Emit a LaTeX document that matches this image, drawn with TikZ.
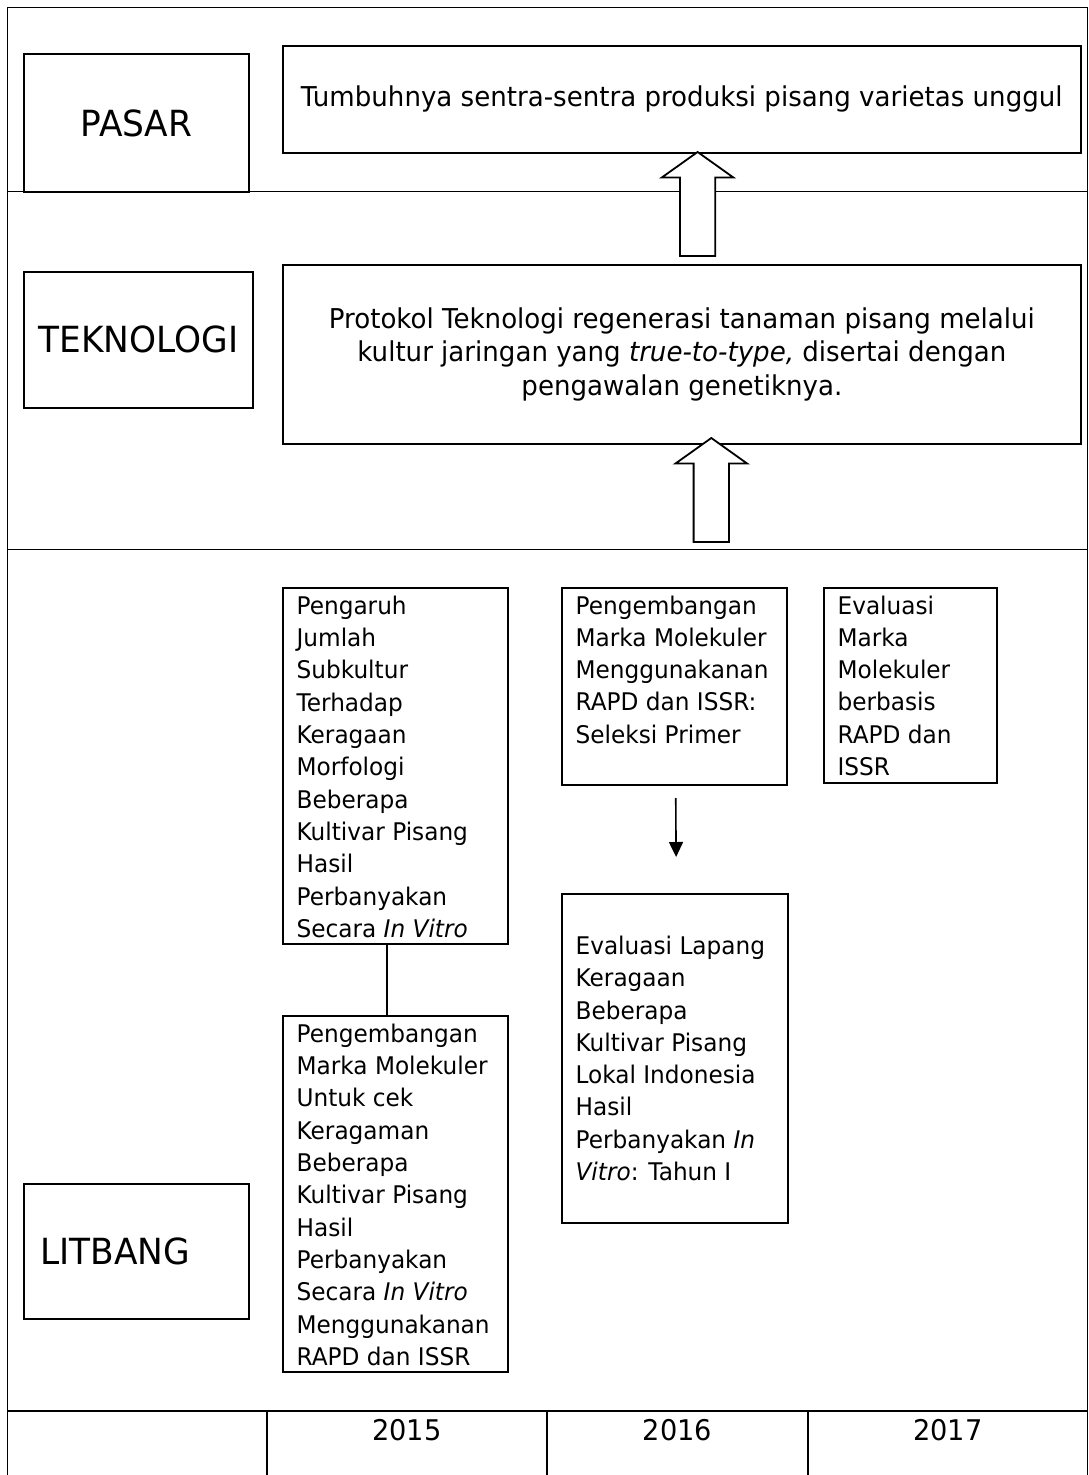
\documentclass[tikz,border=0pt]{standalone}
\usepackage{fontspec}
\setmainfont{DejaVu Sans}[FakeStretch=0.955]
\usetikzlibrary{arrows.meta}

\newcommand{\isi}[4][t]{\parbox[c][#3pt][#1]{#2pt}{\raggedright #4}}

\begin{document}
\begin{tikzpicture}[x=1pt, y=-1pt, line width=1.8pt]
		\tikzset{kotak/.style={draw, rectangle, anchor=north west, inner sep=0pt},
			lbl/.style={kotak, font=\fontsize{36}{40}\selectfont},
			judul/.style={kotak, align=center, font=\fontsize{27.3}{33.5}\selectfont},
			kecil/.style={kotak, inner xsep=14pt, inner ysep=8pt, font=\fontsize{24.3}{32.3}\selectfont},
			tahun/.style={anchor=base, font=\fontsize{28.5}{33.5}\selectfont},
			panah/.style={line width=1.6pt, -{Triangle[length=15pt, width=14pt]}},
			panahblok/.pic={\draw[fill=white] (-17.7,0) -- (-17.7,-78.5) -- (-35.8,-78.5) -- (0,-104) -- (35.8,-78.5) -- (17.7,-78.5) -- (17.7,0) -- cycle;}};

		\useasboundingbox (0,0) rectangle (1089,1475);

		\draw (7.5,1475) -- (7.5,7.5) -- (1087.5,7.5) -- (1087.5,1475);
		\draw (7.5,191.5) -- (1087.5,191.5);
		\draw (7.5,549.5) -- (1087.5,549.5);
		\draw (7.5,1411) -- (1087.5,1411);
		\draw (266.7,1411) -- (266.7,1475);
		\draw (547,1411) -- (547,1475);
		\draw (808,1411) -- (808,1475);

		\node[lbl, minimum width=225.6pt, minimum height=137.7pt] (pasar) at (22.7,53.3) {PASAR};
		\node[lbl, minimum width=229.3pt, minimum height=136.3pt] (teknologi) at (22.7,270.7) {TEKNOLOGI};
		\node[lbl, minimum width=225.6pt, minimum height=135.6pt, inner xsep=16.6pt, text width=192.4pt, align=left] (litbang) at (22.7,1182.7) {LITBANG};

		\node[judul, minimum width=798.3pt, minimum height=107.3pt] (tumbuh) at (281.7,44.7) {Tumbuhnya sentra-sentra produksi pisang varietas unggul};
		\node[judul, minimum width=798pt, minimum height=178.7pt] (protokol) at (282,264) {Protokol Teknologi regenerasi tanaman pisang melalui\\ kultur jaringan yang \textit{true-to-type,} disertai dengan\\ pengawalan genetiknya.};

		\node[kecil] (b1) at (281.7,587) {\isi{197.6}{340}{Pengaruh\\ Jumlah\\ Subkultur\\ Terhadap\\ Keragaan\\ Morfologi\\ Beberapa\\ Kultivar Pisang\\ Hasil\\ Perbanyakan\\ Secara \textit{In Vitro}}};
		\node[kecil] (b2) at (281.7,1015) {\isi{197.6}{340}{Pengembangan\\ Marka Molekuler\\ Untuk cek\\ Keragaman\\ Beberapa\\ Kultivar Pisang\\ Hasil\\ Perbanyakan\\ Secara \textit{In Vitro}\\ Menggunakanan\\ RAPD dan ISSR}};
		\node[kecil] (b3) at (560.7,586.7) {\isi{197.3}{181.6}{Pengembangan\\ Marka Molekuler\\ Menggunakanan\\ RAPD dan ISSR:\\ Seleksi Primer}};
		\node[kecil] (b4) at (822.7,586.7) {\isi{145.3}{179}{Evaluasi\\ Marka\\ Molekuler\\ berbasis\\ RAPD dan\\ ISSR}};
		\node[kecil] (b5) at (560.7,893) {\isi[c]{198}{313}{Evaluasi Lapang\\ Keragaan\\ Beberapa\\ Kultivar Pisang\\ Lokal Indonesia\\ Hasil\\ Perbanyakan \textit{In}\\ \textit{Vitro}: Tahun I}};

		\node[tahun] (y15) at (406.8,1440.7) {2015};
		\node[tahun] (y16) at (677.5,1440.7) {2016};
		\node[tahun] (y17) at (947.7,1440.7) {2017};

		\draw[line width=1.5pt] ([xshift=-8.5pt]b1.south) -- ([xshift=-8.5pt]b2.north);
		\draw[panah] ([xshift=1.5pt, yshift=-12pt]b3.south) -- ([xshift=1.5pt, yshift=36pt]b5.north);

		\coordinate (p1) at (697.6,256);
		\coordinate (p2) at (711.3,542);
		\pic at (p1) {panahblok};
		\pic at (p2) {panahblok};

	\end{tikzpicture}
\end{document}
